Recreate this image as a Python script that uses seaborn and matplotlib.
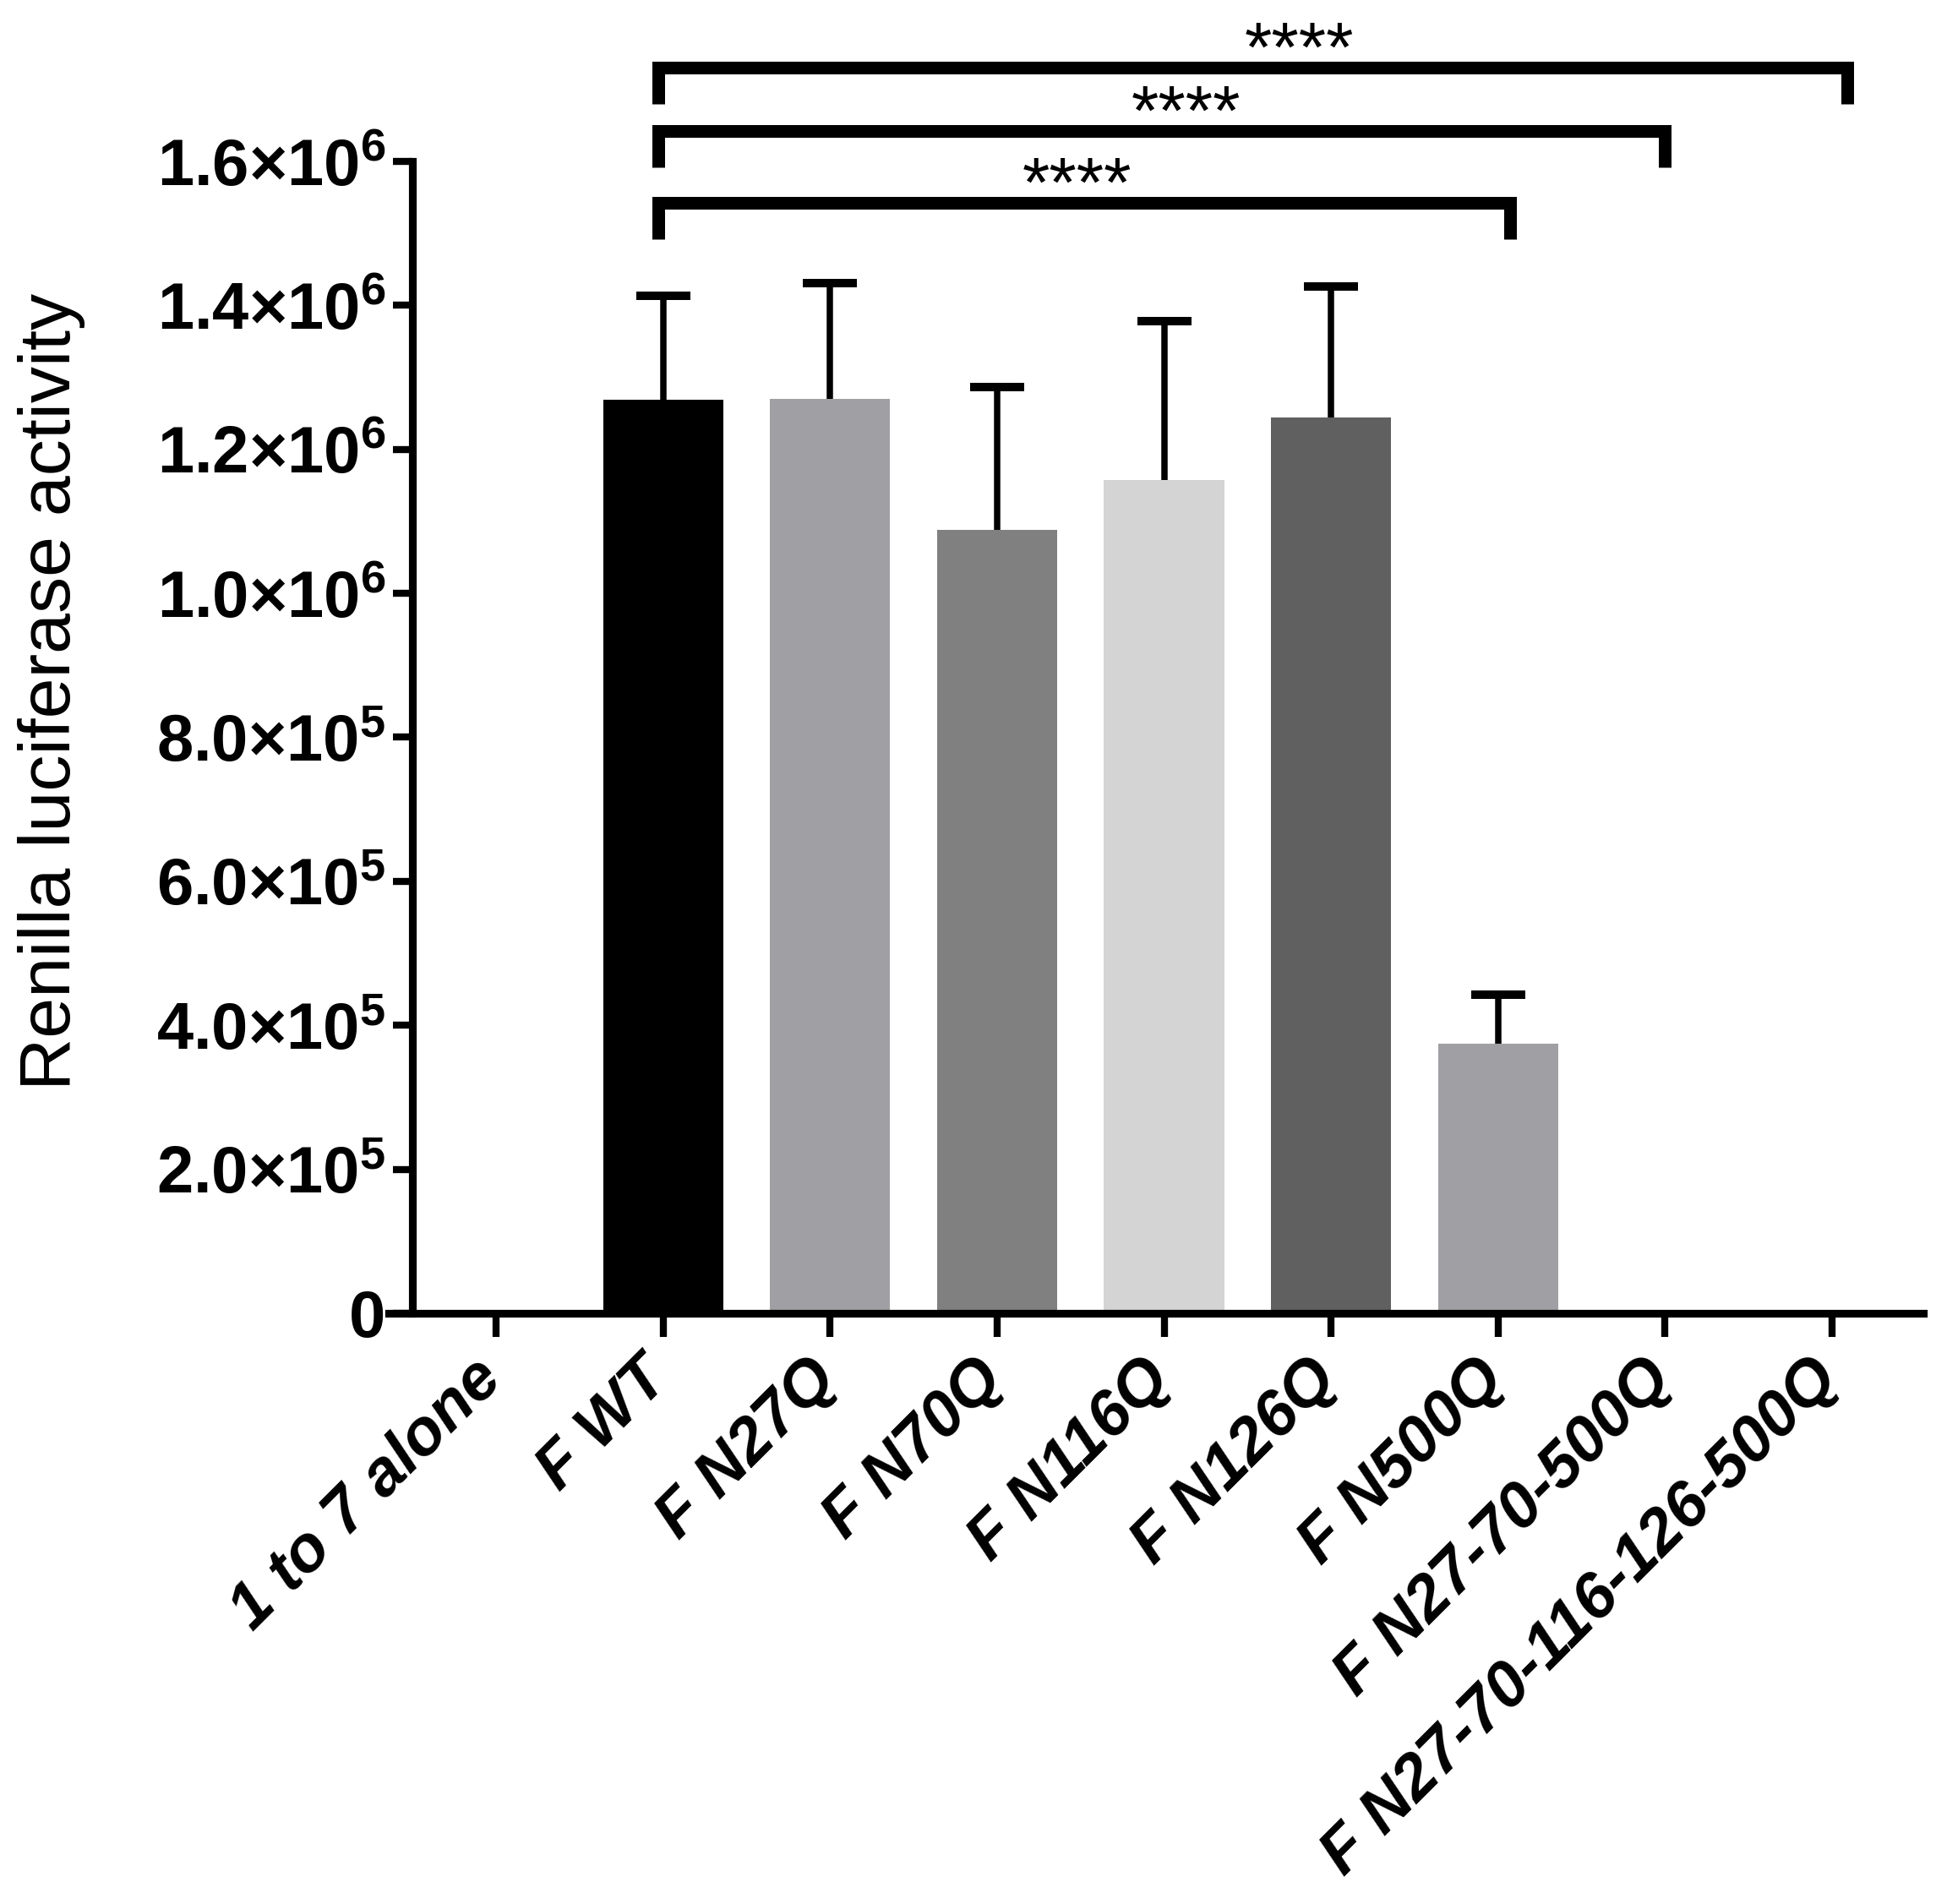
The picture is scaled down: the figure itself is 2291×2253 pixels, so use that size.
import numpy as np
import pandas as pd
import matplotlib
matplotlib.use("Agg")
import matplotlib.pyplot as plt
import matplotlib.transforms as mtransforms
import seaborn as sns

# data
groups = ["1 to 7 alone", "F WT", "F N27Q", "F N70Q", "F N116Q", "F N126Q",
          "F N500Q", "F N27-70-500Q", "F N27-70-116-126-500Q"]
means = [0, 1.269e6, 1.270e6, 1.088e6, 1.157e6, 1.244e6, 3.745e5, 0, 0]
sem = [0, 1.44e5, 1.61e5, 1.99e5, 2.21e5, 1.82e5, 6.8e4, 0, 0]
bar_colors = ["#ffffff", "#000000", "#a0a0a4", "#808080", "#d4d4d4",
              "#606060", "#a0a0a4", "#ffffff", "#ffffff"]
y_ticks = [0, 2e5, 4e5, 6e5, 8e5, 1e6, 1.2e6, 1.4e6, 1.6e6]
y_ticklabels = ["0", "2.0×10$^{5}$", "4.0×10$^{5}$", "6.0×10$^{5}$", "8.0×10$^{5}$",
                "1.0×10$^{6}$", "1.2×10$^{6}$", "1.4×10$^{6}$", "1.6×10$^{6}$"]
comparisons = [(1, 6), (1, 7), (1, 8)]
sig_labels = ["****", "****", "****"]

sns.set_theme(style="ticks")
plt.rcParams['font.family'] = ['Liberation Sans', 'DejaVu Sans']
plt.rcParams['mathtext.fontset'] = 'custom'
plt.rcParams['mathtext.rm'] = 'Liberation Sans:bold'
plt.rcParams['mathtext.bf'] = 'Liberation Sans:bold'
plt.rcParams['mathtext.default'] = 'regular'

df = pd.DataFrame({"group": groups, "value": means, "sem": sem})

fig = plt.figure(figsize=(11.455, 11.265), dpi=200)
ax = fig.add_axes([0.2008, 0.3103, 0.7927, 0.6049])

sns.barplot(data=df, x="group", y="value", hue="group", palette=bar_colors,
            legend=False, width=0.72, saturation=1, linewidth=0, ax=ax)

# one-sided error bars (up only), caps drawn separately
has_err = df[df["sem"] > 0]
xpos = has_err.index.to_numpy()
ax.errorbar(xpos, has_err["value"], yerr=[np.zeros(len(has_err)), has_err["sem"]],
            fmt="none", ecolor="black", elinewidth=2.7, capsize=0, zorder=3)
ax.plot(xpos, has_err["value"] + has_err["sem"], ls="none", marker="_",
        ms=23, mew=3.6, color="black", zorder=3)

# spine offset first: set_position resets the tick labels
sns.despine(ax=ax)
ax.spines["left"].set_position(("axes", 0.0154))
for s in ["left", "bottom"]:
    ax.spines[s].set_linewidth(3.3)
    ax.spines[s].set_color("black")

ax.set_xlim(-0.643, 8.547)
ax.set_ylim(0, 1.6e6)
ax.set_yticks(y_ticks)
ax.set_yticklabels(y_ticklabels, fontsize=28, fontweight="bold", color="black")
ax.set_xticks(range(len(groups)))
ax.set_xlabel("")
ax.set_ylabel("Renilla luciferase activity", fontsize=31, color="black")
ax.yaxis.set_label_coords(-0.1976, 0.54)

ax.tick_params(axis="y", length=8.3, width=3.0, pad=3, colors="black")
ax.tick_params(axis="x", length=10, width=3.0, colors="black", labelbottom=False)

# rotated category labels, placed as texts so they can be nudged
lab_trans = ax.get_xaxis_transform() + mtransforms.ScaledTranslation(
    -10.5 / 72, -15 / 72, fig.dpi_scale_trans)
for i, g in enumerate(groups):
    ax.text(i, 0, g, transform=lab_trans, fontsize=27.5, fontweight="bold",
            fontstyle="italic", rotation=45, ha="right", va="top",
            rotation_mode="anchor", clip_on=False, color="black")

# significance brackets above the plot
levels = [1.542e6, 1.642e6, 1.730e6]
drop = 0.05e6
right_shift = [0.07, 0.0, 0.09]
star_x = [3.48, 4.13, 4.81]
for (i, j), lvl, sh, sx, lab in zip(comparisons, levels, right_shift, star_x, sig_labels):
    x0, x1 = i - 0.03, j + sh
    ax.plot([x0, x0, x1, x1], [lvl - drop, lvl, lvl, lvl - drop], color="black",
            lw=5.4, clip_on=False, solid_joinstyle="miter", solid_capstyle="butt")
    ax.text(sx, lvl - 0.005e6, lab, fontsize=30, ha="center", va="baseline",
            clip_on=False, color="black")

fig.savefig("out.png", dpi=200)
